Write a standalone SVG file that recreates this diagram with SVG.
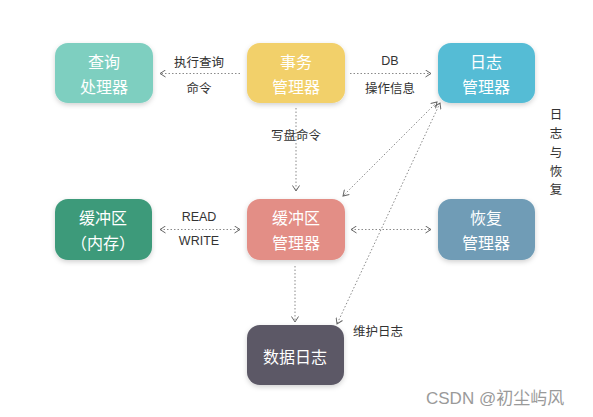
<svg xmlns="http://www.w3.org/2000/svg" width="593" height="417" viewBox="0 0 593 417">
<style>
.node text{font-family:"Noto Sans CJK SC","Noto Sans",sans-serif;font-size:16px;fill:#fff;text-anchor:middle;dominant-baseline:central}
.lbl{font-family:"Noto Sans CJK SC","Noto Sans",sans-serif;font-size:12.5px;fill:#333;text-anchor:middle;dominant-baseline:central}
.en{font-family:"Liberation Sans","Noto Sans CJK SC",sans-serif}
.edge{stroke:#8a8a8a;stroke-width:1;stroke-dasharray:1.5 2;fill:none}
.wm{font-family:"Liberation Sans","Noto Sans CJK SC",sans-serif;font-size:17px;fill:#9a9a9a;text-anchor:start;dominant-baseline:central}
</style>
<defs>
<filter id="sh" x="-20%" y="-20%" width="140%" height="150%">
<feDropShadow dx="0" dy="2" stdDeviation="2.5" flood-color="#000" flood-opacity="0.18"/>
</filter>
<marker id="ah" markerWidth="8" markerHeight="8" refX="6.5" refY="4" orient="auto-start-reverse" markerUnits="userSpaceOnUse">
<path d="M1,0.5 L6.5,4 L1,7.5" fill="none" stroke="#666" stroke-width="1"/>
</marker>
</defs>
<rect width="593" height="417" fill="#fff"/>
<g id="edges">
<line class="edge" x1="240" y1="73.5" x2="160" y2="73.5" marker-end="url(#ah)"/>
<line class="edge" x1="350" y1="73.5" x2="431" y2="73.5" marker-end="url(#ah)"/>
<line class="edge" x1="296" y1="108" x2="296" y2="191" marker-end="url(#ah)"/>
<line class="edge" x1="437" y1="102" x2="343" y2="196" marker-start="url(#ah)" marker-end="url(#ah)"/>
<line class="edge" x1="440" y1="103" x2="337" y2="324" marker-start="url(#ah)" marker-end="url(#ah)"/>
<line class="edge" x1="160" y1="229.5" x2="240" y2="229.5" marker-start="url(#ah)" marker-end="url(#ah)"/>
<line class="edge" x1="351" y1="229.5" x2="431" y2="229.5" marker-start="url(#ah)" marker-end="url(#ah)"/>
<line class="edge" x1="295" y1="266" x2="295" y2="322" marker-end="url(#ah)"/>
<text class="lbl" x="199" y="61">执行查询</text>
<text class="lbl" x="199" y="87">命令</text>
<text class="lbl en" x="390" y="61">DB</text>
<text class="lbl" x="390" y="87">操作信息</text>
<text class="lbl" x="296" y="134">写盘命令</text>
<text class="lbl en" x="199" y="217">READ</text>
<text class="lbl en" x="199" y="241">WRITE</text>
<text class="lbl" x="353" y="330" style="text-anchor:start">维护日志</text>
<g class="lbl">
<text class="lbl" x="556" y="113">日</text>
<text class="lbl" x="556" y="132">志</text>
<text class="lbl" x="556" y="151">与</text>
<text class="lbl" x="556" y="170">恢</text>
<text class="lbl" x="556" y="188">复</text>
</g>
</g>
<g id="query" class="node">
<rect x="55" y="43" width="98" height="60" rx="13" fill="#7ecfc0" filter="url(#sh)"/>
<text x="104" y="61">查询</text><text x="104" y="86">处理器</text>
</g>
<g id="txn" class="node">
<rect x="247" y="43" width="98" height="60" rx="13" fill="#f2d06b" filter="url(#sh)"/>
<text x="296" y="61">事务</text><text x="296" y="86">管理器</text>
</g>
<g id="logmgr" class="node">
<rect x="438" y="43" width="97" height="60" rx="13" fill="#55bcd5" filter="url(#sh)"/>
<text x="486" y="61">日志</text><text x="486" y="86">管理器</text>
</g>
<g id="buffer" class="node">
<rect x="55" y="199" width="97" height="61" rx="13" fill="#3e9a7a" filter="url(#sh)"/>
<text x="103" y="217">缓冲区</text><text x="103" y="242">（内存）</text>
</g>
<g id="bufmgr" class="node">
<rect x="247" y="199" width="98" height="61" rx="13" fill="#e38e86" filter="url(#sh)"/>
<text x="296" y="217">缓冲区</text><text x="296" y="242">管理器</text>
</g>
<g id="recovery" class="node">
<rect x="438" y="199" width="97" height="61" rx="13" fill="#6f9cb6" filter="url(#sh)"/>
<text x="486" y="217">恢复</text><text x="486" y="242">管理器</text>
</g>
<g id="datalog" class="node">
<rect x="247" y="325" width="97" height="60" rx="13" fill="#5b5866" filter="url(#sh)"/>
<text x="295" y="356">数据日志</text>
</g>
<text class="wm" x="426" y="398">CSDN @初尘屿风</text>
</svg>
